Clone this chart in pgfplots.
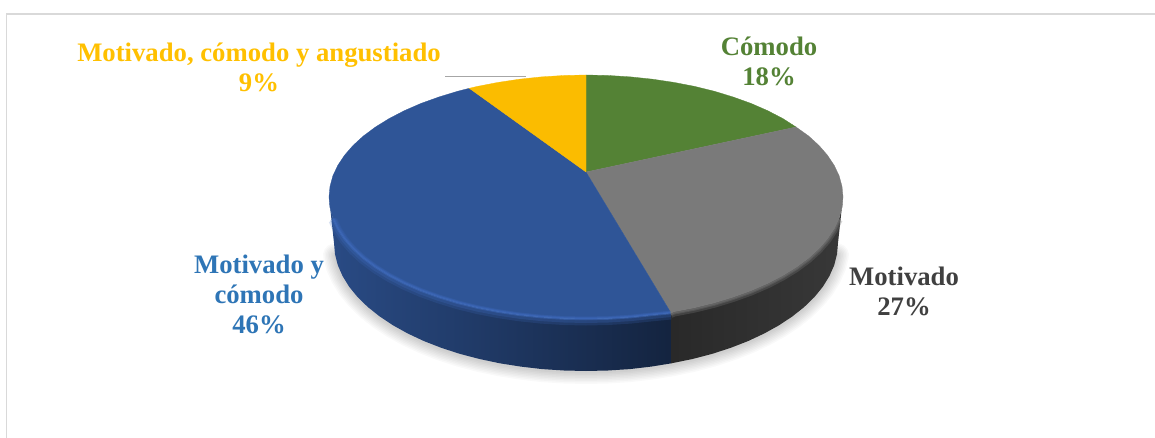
\documentclass[border=0pt]{standalone}
\usepackage{pgfplots}
\pgfplotsset{compat=1.18}
\usepackage{pgfplotstable}
\usepackage{fontspec}
\setmainfont{Liberation Serif}
\definecolor{cgreen}{HTML}{548235}
\definecolor{cgrey}{HTML}{7A7A7A}
\definecolor{cblue}{HTML}{2F5597}
\definecolor{cbev}{HTML}{3F6CBF}
\definecolor{cyellow}{HTML}{FBBC00}
\definecolor{tblue}{HTML}{2E75B6}
\definecolor{tgrey}{HTML}{404040}
\definecolor{tyellow}{HTML}{FFC000}
\tikzset{lab/.style={font=\fontsize{26.7}{30}\selectfont\bfseries, align=center, inner sep=0pt}}
\pgfplotsset{shad/.style={color=black, line width=#1, yshift=-1pt, opacity=.022, line join=round, line cap=round}}

% bottom edge of the disc, pixels of the reference
\pgfplotstableread{
x y
335 254.2
337.8 265.2
342.6 276.1
349.2 286.8
357.6 297.1
367.8 307
379.6 316.4
393 325.3
407.8 333.5
424 341.1
441.5 347.9
460 353.9
479.5 359
499.8 363.3
520.8 366.6
542.2 369.1
564 370.5
586 371
608 370.5
629.8 369.1
651.2 366.6
672.2 363.3
692.5 359
712 353.9
730.5 347.9
748 341.1
764.2 333.5
779 325.3
792.4 316.4
804.2 307
814.4 297.1
822.8 286.8
829.4 276.1
834.2 265.2
837 254.2
}\shadowarc

% rim of the top face, lower left part
\pgfplotstableread{
x y
332.9 218.2
337.8 228.6
344.5 238.7
353.1 248.6
363.4 258
375.5 267
389.1 275.4
404.3 283.3
420.8 290.5
438.6 296.9
457.5 302.7
477.4 307.6
498.1 311.6
519.5 314.8
541.4 317.1
563.6 318.5
586 319
608.4 318.5
630.6 317.1
652.5 314.8
671 313
}\rimblue

% rim of the top face, lower right part
\pgfplotstableread{
x y
671 313
673.9 311.6
694.6 307.6
714.5 302.7
733.4 296.9
751.2 290.5
767.7 283.3
782.9 275.4
796.5 267
808.6 258
818.9 248.6
827.5 238.7
834.2 228.6
839.1 218.2
}\rimgrey

\begin{document}
\begin{tikzpicture}
\useasboundingbox (0,0) rectangle (1155pt,438pt);
\fill[white] (0,0) rectangle (1155pt,438pt);
\begin{axis}[
  at={(0,0)}, anchor=south west,
  scale only axis, width=1155pt, height=438pt,
  hide axis, clip=false,
  xmin=0, xmax=1155, ymin=0, ymax=438, y dir=reverse,
]
% frame
\addplot[color=black!15, line width=1.3pt] coordinates {(1155,14) (6.5,14) (6.5,438)};

% soft shadow
\addplot[shad=24pt] table {\shadowarc};
\addplot[shad=21pt] table {\shadowarc};
\addplot[shad=18pt] table {\shadowarc};
\addplot[shad=15pt] table {\shadowarc};
\addplot[shad=12pt] table {\shadowarc};
\addplot[shad=9pt] table {\shadowarc};
\addplot[shad=6pt] table {\shadowarc};
\addplot[shad=3pt] table {\shadowarc};

% blue wall
\addplot[draw=none, left color=cblue!88!black, middle color=cblue!62!black, right color=cblue!42!black] coordinates {
(329,197) (330,207.6) (332.9,218.2) (337.8,228.6) (344.5,238.7) (353.1,248.6) (363.4,258) (375.5,267)
(389.1,275.4) (404.3,283.3) (420.8,290.5) (438.6,296.9) (457.5,302.7) (477.4,307.6) (498.1,311.6)
(519.5,314.8) (541.4,317.1) (563.6,318.5) (586,319) (608.4,318.5) (630.6,317.1) (652.5,314.8) (671,313)
(671,363.4) (651.2,366.6) (629.8,369.1) (608,370.5) (586,371) (564,370.5) (542.2,369.1) (520.8,366.6)
(499.8,363.3) (479.5,359) (460,353.9) (441.5,347.9) (424,341.1) (407.8,333.5) (393,325.3) (379.6,316.4)
(367.8,307) (357.6,297.1) (349.2,286.8) (342.6,276.1) (337.8,265.2) (335,254.2) (334,243)
} -- cycle;

% grey wall
\addplot[draw=none, left color=black!84, right color=black!78] coordinates {
(671,313) (673.9,311.6) (694.6,307.6) (714.5,302.7) (733.4,296.9) (751.2,290.5) (767.7,283.3) (782.9,275.4)
(796.5,267) (808.6,258) (818.9,248.6) (827.5,238.7) (834.2,228.6) (839.1,218.2) (842,207.6) (843,197)
(838,243) (837,254.2) (834.2,265.2) (829.4,276.1) (822.8,286.8) (814.4,297.1) (804.2,307) (792.4,316.4)
(779,325.3) (764.2,333.5) (748,341.1) (730.5,347.9) (712,353.9) (692.5,359) (671,363.4)
} -- cycle;

% top face: 18 %
\addplot[fill=cgreen, draw=cgreen, line width=.3pt] coordinates {
(586,172) (586,75) (608.4,75.5) (630.6,76.9) (652.5,79.2) (673.9,82.4) (694.6,86.4) (714.5,91.3)
(733.4,97.1) (751.2,103.5) (767.7,110.7) (782.9,118.6) (796,127)
} -- cycle;

% top face: 27 %
\addplot[fill=cgrey, draw=cgrey, line width=.3pt] coordinates {
(586,172) (796,127) (808.6,136) (818.9,145.4) (827.5,155.3) (834.2,165.4) (839.1,175.8) (842,186.4) (843,197)
(842,207.6) (839.1,218.2) (834.2,228.6) (827.5,238.7) (818.9,248.6) (808.6,258) (796.5,267) (782.9,275.4)
(767.7,283.3) (751.2,290.5) (733.4,296.9) (714.5,302.7) (694.6,307.6) (673.9,311.6) (671,313)
} -- cycle;

% top face: 46 %
\addplot[fill=cblue, draw=cblue, line width=.3pt] coordinates {
(586,172) (671,313) (652.5,314.8) (630.6,317.1) (608.4,318.5) (586,319) (563.6,318.5) (541.4,317.1) (519.5,314.8)
(498.1,311.6) (477.4,307.6) (457.5,302.7) (438.6,296.9) (420.8,290.5) (404.3,283.3) (389.1,275.4) (375.5,267)
(363.4,258) (353.1,248.6) (344.5,238.7) (337.8,228.6) (332.9,218.2) (330,207.6) (329,197) (330,186.4)
(332.9,175.8) (337.8,165.4) (344.5,155.3) (353.1,145.4) (363.4,136) (375.5,127) (389.1,118.6) (404.3,110.7)
(420.8,103.5) (438.6,97.1) (457.5,91.3) (469.3,88.3)
} -- cycle;

% top face: 9 %
\addplot[fill=cyellow, draw=cyellow, line width=.3pt] coordinates {
(586,172) (469.3,88.3) (477.4,86.4) (498.1,82.4) (519.5,79.2) (541.4,76.9) (563.6,75.5) (586,75)
} -- cycle;

% bevel on the rim
\addplot[color=cbev, opacity=.2, line width=9pt, yshift=-2pt] table {\rimblue};
\addplot[color=cbev, opacity=.25, line width=6pt, yshift=-1pt] table {\rimblue};
\addplot[color=cbev, opacity=.5, line width=2.5pt] table {\rimblue};
\addplot[color=cgrey, opacity=.3, line width=7pt, yshift=-1.5pt] table {\rimgrey};
\addplot[color=cgrey, opacity=.35, line width=4pt, yshift=-1pt] table {\rimgrey};
\addplot[color=cgrey, opacity=.4, line width=2pt, yshift=-1pt] table {\rimgrey};

% leader line
\addplot[color=black!35, line width=1.7pt] coordinates {(445,76.5) (526,76.5)};

\node[lab, text=cgreen] at (axis cs:769,61) {Cómodo\\18\%};
\node[lab, text=tyellow] at (axis cs:259,67) {Motivado, cómodo y angustiado\\9\%};
\node[lab, text=tgrey] at (axis cs:904,291) {Motivado\\27\%};
\node[lab, text=tblue] at (axis cs:259,294) {Motivado y\\cómodo\\46\%};
\end{axis}
\end{tikzpicture}
\end{document}
